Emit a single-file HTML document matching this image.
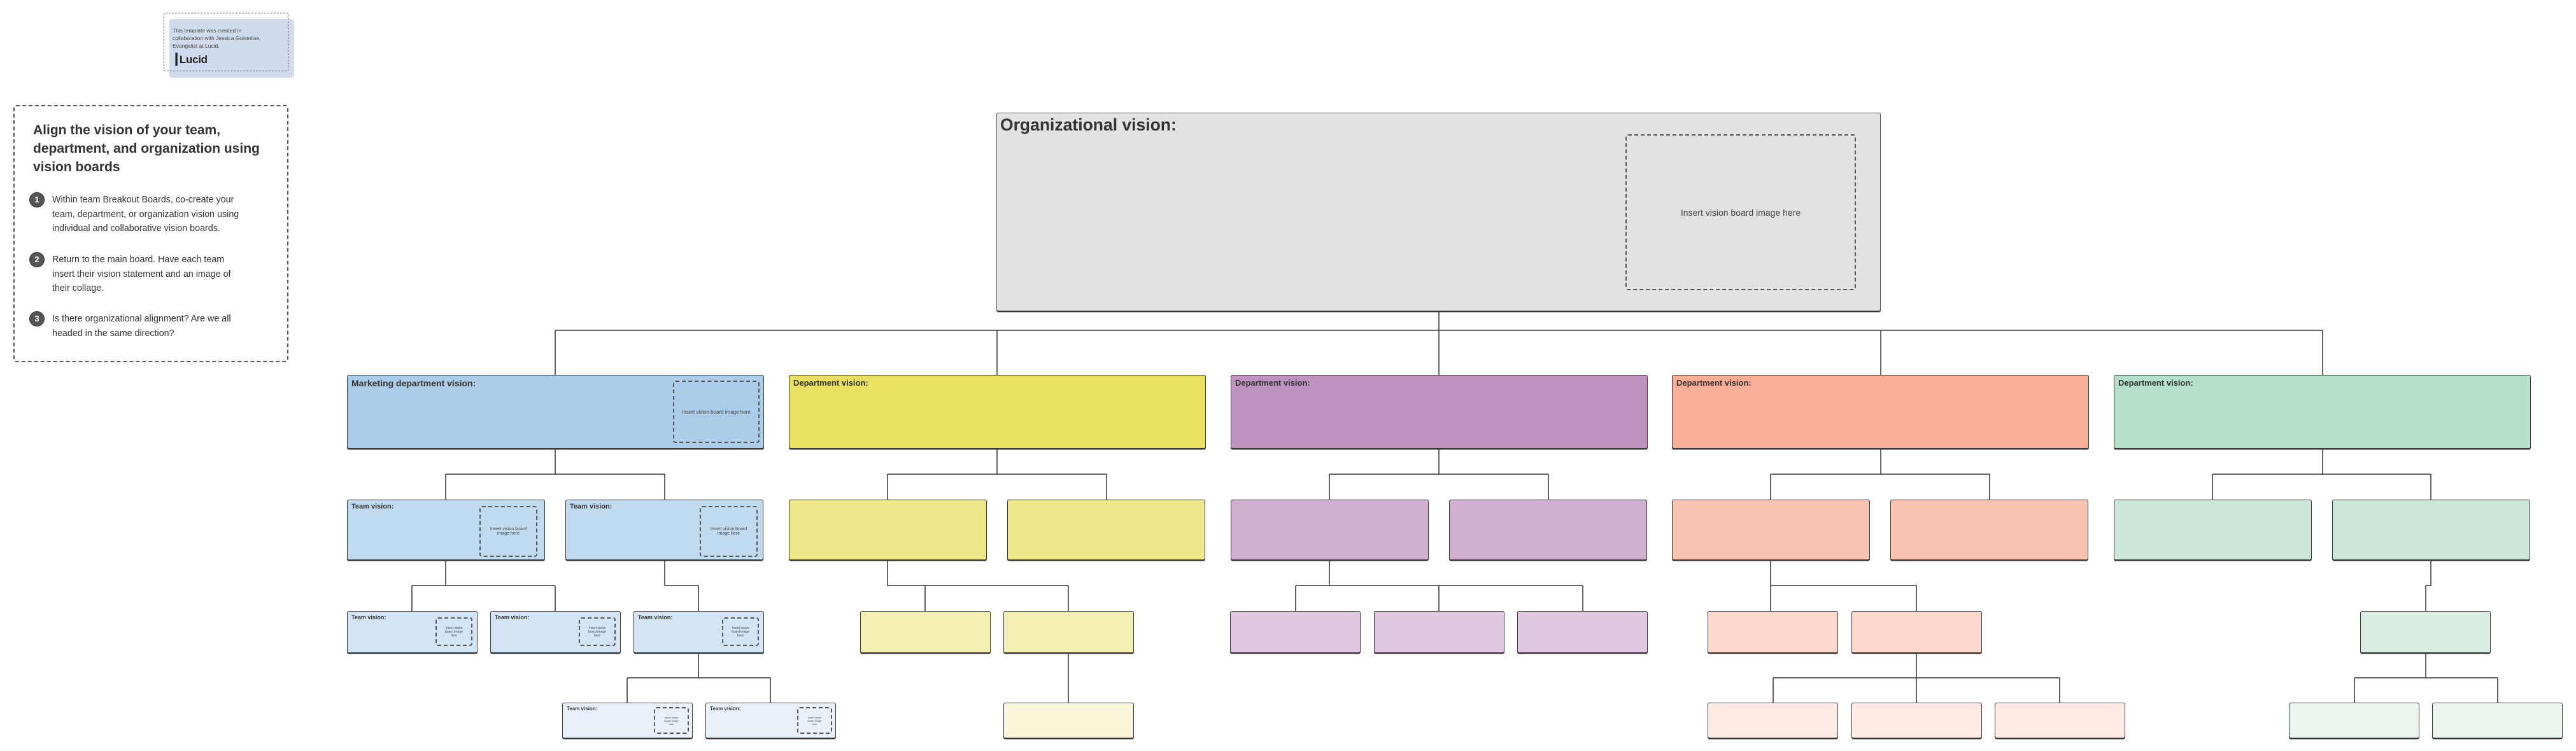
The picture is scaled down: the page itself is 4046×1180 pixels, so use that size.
<!DOCTYPE html>
<html><head><meta charset="utf-8"><style>
html,body{margin:0;padding:0;background:#fff}
body{width:4046px;height:1180px;position:relative;overflow:hidden;font-family:"Liberation Sans",Arial,sans-serif;color:#333}
.b{position:absolute;box-sizing:border-box;border:1.5px solid #3a3a3a;border-radius:3px;box-shadow:0 1.5px 0 #333}
.d{height:116px;width:655px;top:589px}
.l2{height:95px;width:311px;top:785px}
.l3{height:66px;width:205px;top:960px}
.l4{height:56px;width:205px;top:1104px}
.lab{position:absolute;left:6px;top:4px;font-weight:bold;white-space:nowrap}
.img{position:absolute;box-sizing:border-box;border:2px dashed #555;border-radius:4px;display:flex;align-items:center;justify-content:center;text-align:center;color:#444}
.c{position:absolute;left:46px;width:22px;height:22px;border-radius:50%;background:#555;border:1.5px solid #333;color:#fff;font-weight:bold;font-size:13px;text-align:center;line-height:22px}
.s{position:absolute;left:82px;font-size:14.3px;line-height:22.5px}
svg{position:absolute;left:0;top:0}
</style></head><body>
<svg width="4046" height="1180" fill="none" stroke="#333" stroke-width="1.5">
<path d="M2260 489V519M872 519H3648M872 519V589M1566 519V589M2260 519V589M2954 519V589M3648 519V589"/>
<path d="M872 705V745M700 745H1044M700 745V785M1044 745V785"/>
<path d="M1566 705V745M1394 745H1738M1394 745V785M1738 745V785"/>
<path d="M2260 705V745M2088 745H2432M2088 745V785M2432 745V785"/>
<path d="M2954 705V745M2781 745H3125M2781 745V785M3125 745V785"/>
<path d="M3648 705V745M3475 745H3818M3475 745V785M3818 745V785"/>
<path d="M700 880V920M647 920H872M647 920V960M872 920V960M1044 880V920H1097V960"/>
<path d="M1394 880V920H1678M1453 920V960M1678 920V960"/>
<path d="M2088 880V920M2035 920H2486M2035 920V960M2260 920V960M2486 920V960"/>
<path d="M2781 880V960M2781 920H3010V960"/>
<path d="M3818 880V920H3810V960"/>
<path d="M1097 1026V1065M985 1065H1210M985 1065V1104M1210 1065V1104"/>
<path d="M1678 1026V1104"/>
<path d="M3010 1026V1065M2785 1065H3235M2785 1065V1104M3010 1065V1104M3235 1065V1104"/>
<path d="M3810 1026V1065M3698 1065H3923M3698 1065V1104M3923 1065V1104"/>
</svg>

<div style="position:absolute;left:266px;top:30px;width:196px;height:92px;background:#d0dcee;border-radius:4px"></div>
<div style="position:absolute;left:257px;top:20px;width:196px;height:92px;box-sizing:border-box;border:1.5px dashed #555;border-radius:3px"></div>
<div style="position:absolute;left:271px;top:42px;font-size:8.5px;line-height:12px;color:#444">This template was created in<br>collaboration with Jessica Guistolise,<br>Evangelist at Lucid.</div>
<div style="position:absolute;left:272px;top:84px;font-size:17px;font-weight:bold;color:#222;letter-spacing:-0.3px">&#x2503;Lucid</div>

<div style="position:absolute;left:21px;top:165px;width:432px;height:404px;box-sizing:border-box;border:2px dashed #555;border-radius:4px"></div>
<div style="position:absolute;left:52px;top:190px;font-size:21px;font-weight:bold;line-height:29px;color:#333">Align the vision of your team,<br>department, and organization using<br>vision boards</div>
<div class="c" style="top:302px">1</div>
<div class="c" style="top:396px">2</div>
<div class="c" style="top:489px">3</div>
<div class="s" style="top:303px">Within team Breakout Boards, co-create your<br>team, department, or organization vision using<br>individual and collaborative vision boards.</div>
<div class="s" style="top:397px">Return to the main board. Have each team<br>insert their vision statement and an image of<br>their collage.</div>
<div class="s" style="top:490px">Is there organizational alignment? Are we all<br>headed in the same direction?</div>

<div class="b" style="left:1565px;top:177px;width:1389px;height:312px;background:#e2e2e2;border-color:#555">
<div class="lab" style="font-size:26.5px;left:5px;top:3px">Organizational vision:</div>
<div class="img" style="left:987px;top:33px;width:362px;height:245px;font-size:14px">Insert vision board image here</div>
</div>

<div class="b d" style="left:545px;background:#abcde9"><div class="lab" style="font-size:14px">Marketing department vision:</div><div class="img" style="left:511px;top:8px;width:136px;height:98px;font-size:8px">Insert vision board image here</div></div>
<div class="b d" style="left:1239px;background:#e9e163"><div class="lab" style="font-size:13px">Department vision:</div></div>
<div class="b d" style="left:1933px;background:#c094c1"><div class="lab" style="font-size:13px">Department vision:</div></div>
<div class="b d" style="left:2626px;background:#f8ae97"><div class="lab" style="font-size:13px">Department vision:</div></div>
<div class="b d" style="left:3320px;background:#b5e0cc"><div class="lab" style="font-size:13px">Department vision:</div></div>

<div class="b l2" style="left:545px;background:#c0dbef"><div class="lab" style="font-size:11px">Team vision:</div><div class="img" style="left:207px;top:9px;width:91px;height:80px;font-size:7px">Insert vision board<br>image here</div></div>
<div class="b l2" style="left:888px;background:#c0dbef"><div class="lab" style="font-size:11px">Team vision:</div><div class="img" style="left:210px;top:9px;width:91px;height:80px;font-size:7px">Insert vision board<br>image here</div></div>
<div class="b l2" style="left:1239px;background:#efe88a"></div>
<div class="b l2" style="left:1582px;background:#efe88a"></div>
<div class="b l2" style="left:1933px;background:#d0afcf"></div>
<div class="b l2" style="left:2276px;background:#d0afcf"></div>
<div class="b l2" style="left:2626px;background:#f9c3b2"></div>
<div class="b l2" style="left:2969px;background:#f9c3b2"></div>
<div class="b l2" style="left:3320px;background:#cbe7d9"></div>
<div class="b l2" style="left:3663px;background:#cbe7d9"></div>

<div class="b l3" style="left:545px;background:#d3e5f4"><div class="lab" style="font-size:9px">Team vision:</div><div class="img" style="left:138px;top:9px;width:58px;height:45px;font-size:5px">Insert vision<br>board image<br>here</div></div>
<div class="b l3" style="left:770px;background:#d3e5f4"><div class="lab" style="font-size:9px">Team vision:</div><div class="img" style="left:138px;top:9px;width:58px;height:45px;font-size:5px">Insert vision<br>board image<br>here</div></div>
<div class="b l3" style="left:995px;background:#d3e5f4"><div class="lab" style="font-size:9px">Team vision:</div><div class="img" style="left:138px;top:9px;width:58px;height:45px;font-size:5px">Insert vision<br>board image<br>here</div></div>
<div class="b l3" style="left:1351px;background:#f4f0b2"></div>
<div class="b l3" style="left:1576px;background:#f4f0b2"></div>
<div class="b l3" style="left:1932px;background:#dfc8e0"></div>
<div class="b l3" style="left:2158px;background:#dfc8e0"></div>
<div class="b l3" style="left:2383px;background:#dfc8e0"></div>
<div class="b l3" style="left:2682px;background:#fbd7cc"></div>
<div class="b l3" style="left:2908px;background:#fbd7cc"></div>
<div class="b l3" style="left:3707px;background:#daede3"></div>

<div class="b l4" style="left:883px;background:#e8f1f9"><div class="lab" style="font-size:8px">Team vision:</div><div class="img" style="left:143px;top:6px;width:55px;height:42px;font-size:4px">Insert vision<br>board image<br>here</div></div>
<div class="b l4" style="left:1108px;background:#e8f1f9"><div class="lab" style="font-size:8px">Team vision:</div><div class="img" style="left:143px;top:6px;width:55px;height:42px;font-size:4px">Insert vision<br>board image<br>here</div></div>
<div class="b l4" style="left:1576px;background:#f9f5d8"></div>
<div class="b l4" style="left:2682px;background:#fdebe4"></div>
<div class="b l4" style="left:2908px;background:#fdebe4"></div>
<div class="b l4" style="left:3133px;background:#fdebe4"></div>
<div class="b l4" style="left:3595px;background:#ecf6f1"></div>
<div class="b l4" style="left:3820px;background:#ecf6f1"></div>
</body></html>
